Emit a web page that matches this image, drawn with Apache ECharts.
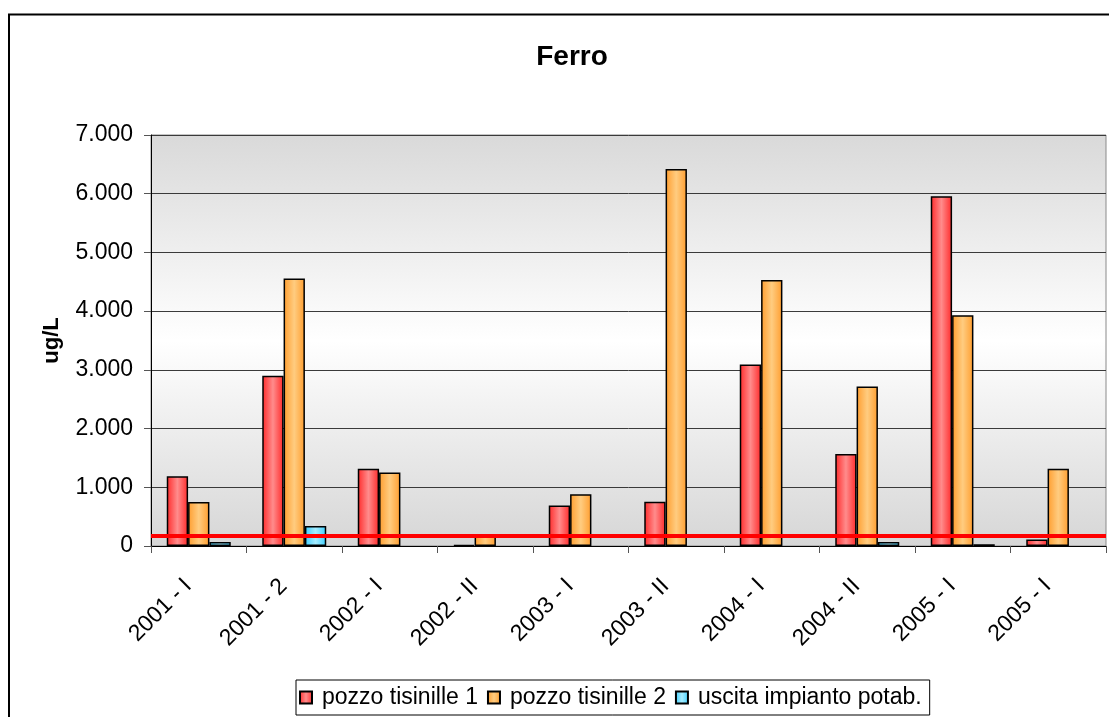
<!DOCTYPE html>
<html>
<head>
<meta charset="utf-8">
<script src="https://cdn.jsdelivr.net/npm/echarts@6/dist/echarts.min.js"></script>
<style>
  html, body { margin: 0; padding: 0; background: #fff; }
  #chart { width: 1109px; height: 717px; }
</style>
</head>
<body>
<div id="chart"></div>
<script>
// Campaign labels (semester of sampling)
const categories = ['2001 - I', '2001 - 2', '2002 - I', '2002 - II', '2003 - I',
                    '2003 - II', '2004 - I', '2004 - II', '2005 - I', '2005 - I'];
// Iron concentration, ug/L
const pozzo1 = [1190, 2900, 1315, 20, 690, 755, 3090, 1565, 5955, 110];
const pozzo2 = [750, 4555, 1250, 180, 880, 6420, 4530, 2715, 3930, 1315];
const uscita = [70, 340, null, null, null, null, null, 70, 30, null];
// Reference limit drawn as a horizontal red line
const limite = 180;
const seriesNames = ['pozzo tisinille 1', 'pozzo tisinille 2', 'uscita impianto potab.'];
const yTicks = { min: 0, max: 7000, step: 1000 };

const FONT = '"Liberation Sans", Arial, sans-serif';

function fmt(v) {
  return String(v).replace(/\B(?=(\d{3})+(?!\d))/g, '.');
}

function barFill(edge, mid) {
  return new echarts.graphic.LinearGradient(0, 0, 1, 0, [
    { offset: 0, color: edge },
    { offset: 0.5, color: mid },
    { offset: 1, color: edge }
  ]);
}

const fills = [
  barFill('#ff2a2a', '#ff8c8c'),
  barFill('#ff9d2e', '#ffcc80'),
  barFill('#3ccfff', '#a6ecff')
];

const chart = echarts.init(document.getElementById('chart'), null, { renderer: 'canvas' });

function barSeries(name, data, fill, extra) {
  return Object.assign({
    name: name,
    type: 'bar',
    data: data,
    barGap: '0%',
    barCategoryGap: '33%',
    itemStyle: { color: fill, borderColor: '#000', borderWidth: 1.5 }
  }, extra || {});
}

chart.setOption({
  animation: false,
  backgroundColor: '#fff',
  textStyle: { fontFamily: FONT, color: '#000' },
  title: {
    text: 'Ferro',
    left: 567,
    top: 38,
    textAlign: 'center',
    textStyle: { fontFamily: FONT, fontSize: 28, fontWeight: 'bold', color: '#000' }
  },
  graphic: [{
    type: 'rect',
    shape: { x: 9, y: 14.5, width: 1200, height: 800 },
    style: { fill: 'none', stroke: '#000', lineWidth: 2 },
    silent: true,
    z: 100
  }],
  grid: {
    left: 151, right: 3, top: 135, bottom: 171,
    show: true,
    borderColor: '#8a8a8a',
    borderWidth: 1,
    backgroundColor: new echarts.graphic.LinearGradient(0, 0, 0, 1, [
      { offset: 0, color: '#d9d9d9' },
      { offset: 0.5, color: '#ffffff' },
      { offset: 1, color: '#d6d6d6' }
    ])
  },
  legend: {
    data: seriesNames,
    left: 296,
    top: 680,
    padding: [6, 8, 6, 3],
    itemGap: 9,
    itemWidth: 12,
    itemHeight: 12,
    borderColor: '#000',
    borderWidth: 1,
    backgroundColor: '#fff',
    icon: 'rect',
    textStyle: { fontFamily: FONT, fontSize: 23, color: '#000', padding: [0, 0, 0, 5] }
  },
  xAxis: {
    type: 'category',
    data: categories,
    axisLine: { lineStyle: { color: '#000', width: 1 } },
    axisTick: { show: true, length: 7, interval: 0, lineStyle: { color: '#555' } },
    axisLabel: {
      interval: 0,
      rotate: 45,
      margin: 26,
      padding: [0, 15, 0, 0],
      fontFamily: FONT,
      fontSize: 23,
      color: '#000'
    }
  },
  yAxis: {
    type: 'value',
    min: yTicks.min,
    max: yTicks.max,
    interval: yTicks.step,
    name: 'ug/L',
    nameLocation: 'middle',
    nameGap: 88,
    nameRotate: 90,
    nameTextStyle: { fontFamily: FONT, fontSize: 22, fontWeight: 'bold', color: '#000' },
    axisLine: { show: true, lineStyle: { color: '#000', width: 1 } },
    axisTick: { show: true, length: 7, lineStyle: { color: '#555' } },
    axisLabel: {
      margin: 18,
      fontFamily: FONT,
      fontSize: 23,
      color: '#000',
      formatter: fmt
    },
    splitLine: { show: true, lineStyle: { color: '#3a3a3a', width: 1 } }
  },
  series: [
    barSeries(seriesNames[0], pozzo1, fills[0], {
      markLine: {
        silent: true,
        symbol: ['none', 'none'],
        label: { show: false },
        lineStyle: { color: '#ff0000', width: 4, type: 'solid' },
        data: [{ yAxis: limite }],
        z: 10
      }
    }),
    barSeries(seriesNames[1], pozzo2, fills[1]),
    barSeries(seriesNames[2], uscita, fills[2])
  ]
});
</script>
</body>
</html>
